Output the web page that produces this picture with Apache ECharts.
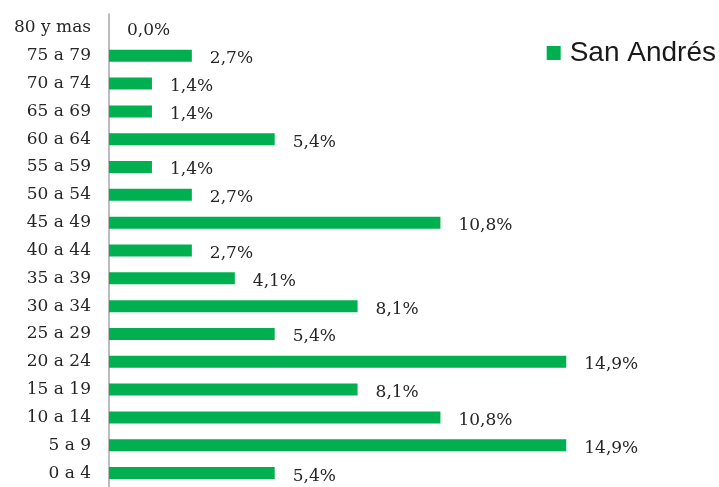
<!DOCTYPE html>
<html>
<head>
<meta charset="utf-8">
<script src="https://cdn.jsdelivr.net/npm/echarts@6/dist/echarts.min.js"></script>
<style>
  html, body { margin: 0; padding: 0; background: #fff; }
  #chart { width: 719px; height: 487px; }
</style>
</head>
<body>
<div id="chart"></div>
<script>
// Age groups, bottom to top
const ageGroups = ['0 a 4', '5 a 9', '10 a 14', '15 a 19', '20 a 24', '25 a 29', '30 a 34',
  '35 a 39', '40 a 44', '45 a 49', '50 a 54', '55 a 59', '60 a 64', '65 a 69', '70 a 74',
  '75 a 79', '80 y mas'];
// Share of population (%) per age group
const sanAndres = [5.4, 14.9, 10.8, 8.1, 14.9, 5.4, 8.1, 4.1, 2.7, 10.8, 2.7, 1.4, 5.4, 1.4, 1.4, 2.7, 0.0];
const seriesName = 'San Andrés';

const chart = echarts.init(document.getElementById('chart'), null, { renderer: 'canvas' });
const serif = '"DejaVu Serif", "Liberation Serif", serif';

chart.setOption({
  animation: false,
  backgroundColor: '#ffffff',
  legend: {
    data: [seriesName],
    right: 1,
    top: 37,
    padding: 2,
    itemWidth: 14,
    itemHeight: 14,
    icon: 'rect',
    textStyle: {
      fontFamily: '"Liberation Sans", Arial, sans-serif',
      fontSize: 28,
      color: '#1a1a1a',
      padding: [0, 0, 0, 4]
    }
  },
  grid: { left: 109, top: 14, width: 491, height: 478 },
  xAxis: {
    type: 'value',
    min: 0,
    max: 16,
    show: false
  },
  yAxis: {
    type: 'category',
    data: ageGroups,
    axisLine: { show: true, lineStyle: { color: '#a6a6a6', width: 1.5 } },
    axisTick: { show: false },
    axisLabel: {
      margin: 18,
      fontFamily: serif,
      fontSize: 17,
      color: '#262626'
    }
  },
  series: [{
    name: seriesName,
    type: 'bar',
    data: sanAndres,
    barWidth: 12,
    itemStyle: { color: '#00B050' },
    label: {
      show: true,
      position: 'right',
      distance: 18,
      offset: [0, 3],
      fontFamily: serif,
      fontSize: 17,
      color: '#262626',
      formatter: p => p.value.toFixed(1).replace('.', ',') + '%'
    }
  }]
});
</script>
</body>
</html>
